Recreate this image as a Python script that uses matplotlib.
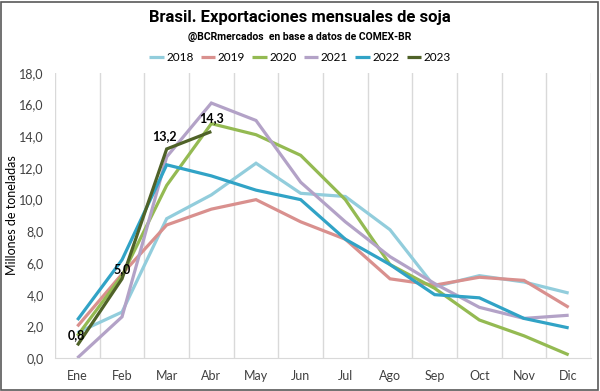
import matplotlib
matplotlib.use("Agg")
import matplotlib.pyplot as plt
from matplotlib.patches import Rectangle
import numpy as np

months = ["Ene", "Feb", "Mar", "Abr", "May", "Jun", "Jul", "Ago", "Sep", "Oct", "Nov", "Dic"]
y2018 = [1.6, 2.9, 8.8, 10.3, 12.3, 10.4, 10.2, 8.1, 4.5, 5.2, 4.8, 4.1]
y2019 = [2.0, 5.3, 8.4, 9.4, 10.0, 8.6, 7.5, 5.0, 4.6, 5.1, 4.9, 3.2]
y2020 = [1.4, 5.2, 10.9, 14.8, 14.1, 12.8, 10.0, 5.9, 4.4, 2.4, 1.4, 0.2]
y2021 = [0.0, 2.6, 12.7, 16.1, 15.0, 11.1, 8.6, 6.4, 4.7, 3.2, 2.5, 2.7]
y2022 = [2.4, 6.2, 12.2, 11.5, 10.6, 10.0, 7.5, 5.9, 4.0, 3.8, 2.5, 1.9]
y2023 = [0.8, 5.0, 13.2, 14.3]
series = [("2018", y2018, "#92CDDC"), ("2019", y2019, "#D9908E"),
          ("2020", y2020, "#94BA52"), ("2021", y2021, "#B3A2C7"),
          ("2022", y2022, "#31A3C6"), ("2023", y2023, "#4F6228")]
yticks = np.arange(0, 18.1, 2.0)

plt.rcParams['font.family'] = ['Lato', 'DejaVu Sans']

fig = plt.figure(figsize=(6, 3.91), dpi=100)
ax = fig.add_axes([0.0917, 0.0844, 0.8933, 0.729])
x = np.arange(len(months))
for name, vals, col in series:
    ax.plot(x[:len(vals)], vals, color=col, lw=2.3, label=name,
            solid_joinstyle="miter", solid_capstyle="butt")

lab = [(0, 0.8, "0,8", -0.02, 0.25), (1, 5.0, "5,0", 0.0, 0.25), (2, 13.2, "13,2", -0.05, 0.45), (3, 14.3, "14,3", 0.0, 0.45)]
for i, v, t, dx, dy in lab:
    ax.text(x[i] + dx, v + dy, t, ha="center", va="bottom", fontsize=9, fontweight="bold", color="black")

ax.set_xlim(-0.5, 11.5)
ax.set_ylim(0, 18)
ax.set_xticks(x)
ax.set_xticklabels(months)
ax.set_yticks(yticks)
ax.set_yticklabels([f"{v:.1f}".replace(".", ",") for v in yticks])
ax.set_xticks(np.arange(-0.5, 11.6, 1), minor=True)
ax.grid(axis="x", which="minor", color="#D9D9D9", lw=1)
ax.grid(axis="x", which="major", visible=False)
ax.tick_params(axis="both", which="both", length=0, labelsize=9, colors="#404040")
ax.tick_params(axis="x", pad=9)
ax.tick_params(axis="y", pad=8)
for s in ["top", "right", "left"]:
    ax.spines[s].set_visible(False)
ax.spines["bottom"].set_color("#D9D9D9")
fig.text(12 / 600, 1 - 215 / 391, "Millones de toneladas", rotation=90, ha="center", va="center",
         fontsize=9, color="black")

fig.text(0.5, 0.955, "Brasil. Exportaciones mensuales de soja", ha="center", va="center",
         fontsize=12, fontweight="bold", family=["Roboto", "DejaVu Sans"])
fig.text(0.5, 0.905, "@BCRmercados  en base a datos de COMEX-BR", ha="center", va="center",
         fontsize=7.5, fontweight="bold", family=["Roboto", "DejaVu Sans"])
leg = fig.legend(loc="center", bbox_to_anchor=(0.5, 0.852), ncol=6, frameon=False, fontsize=8.5,
                 handlelength=1.25, columnspacing=0.6, handletextpad=0.2)
for h in leg.get_lines():
    h.set_linewidth(2.3)
    h.set_solid_capstyle("butt")
fig.patches.append(Rectangle((0.002, 0.003), 0.995, 0.993, transform=fig.transFigure,
                             fill=False, edgecolor="#595959", lw=1.2))
fig.savefig("out.png", dpi=100)
